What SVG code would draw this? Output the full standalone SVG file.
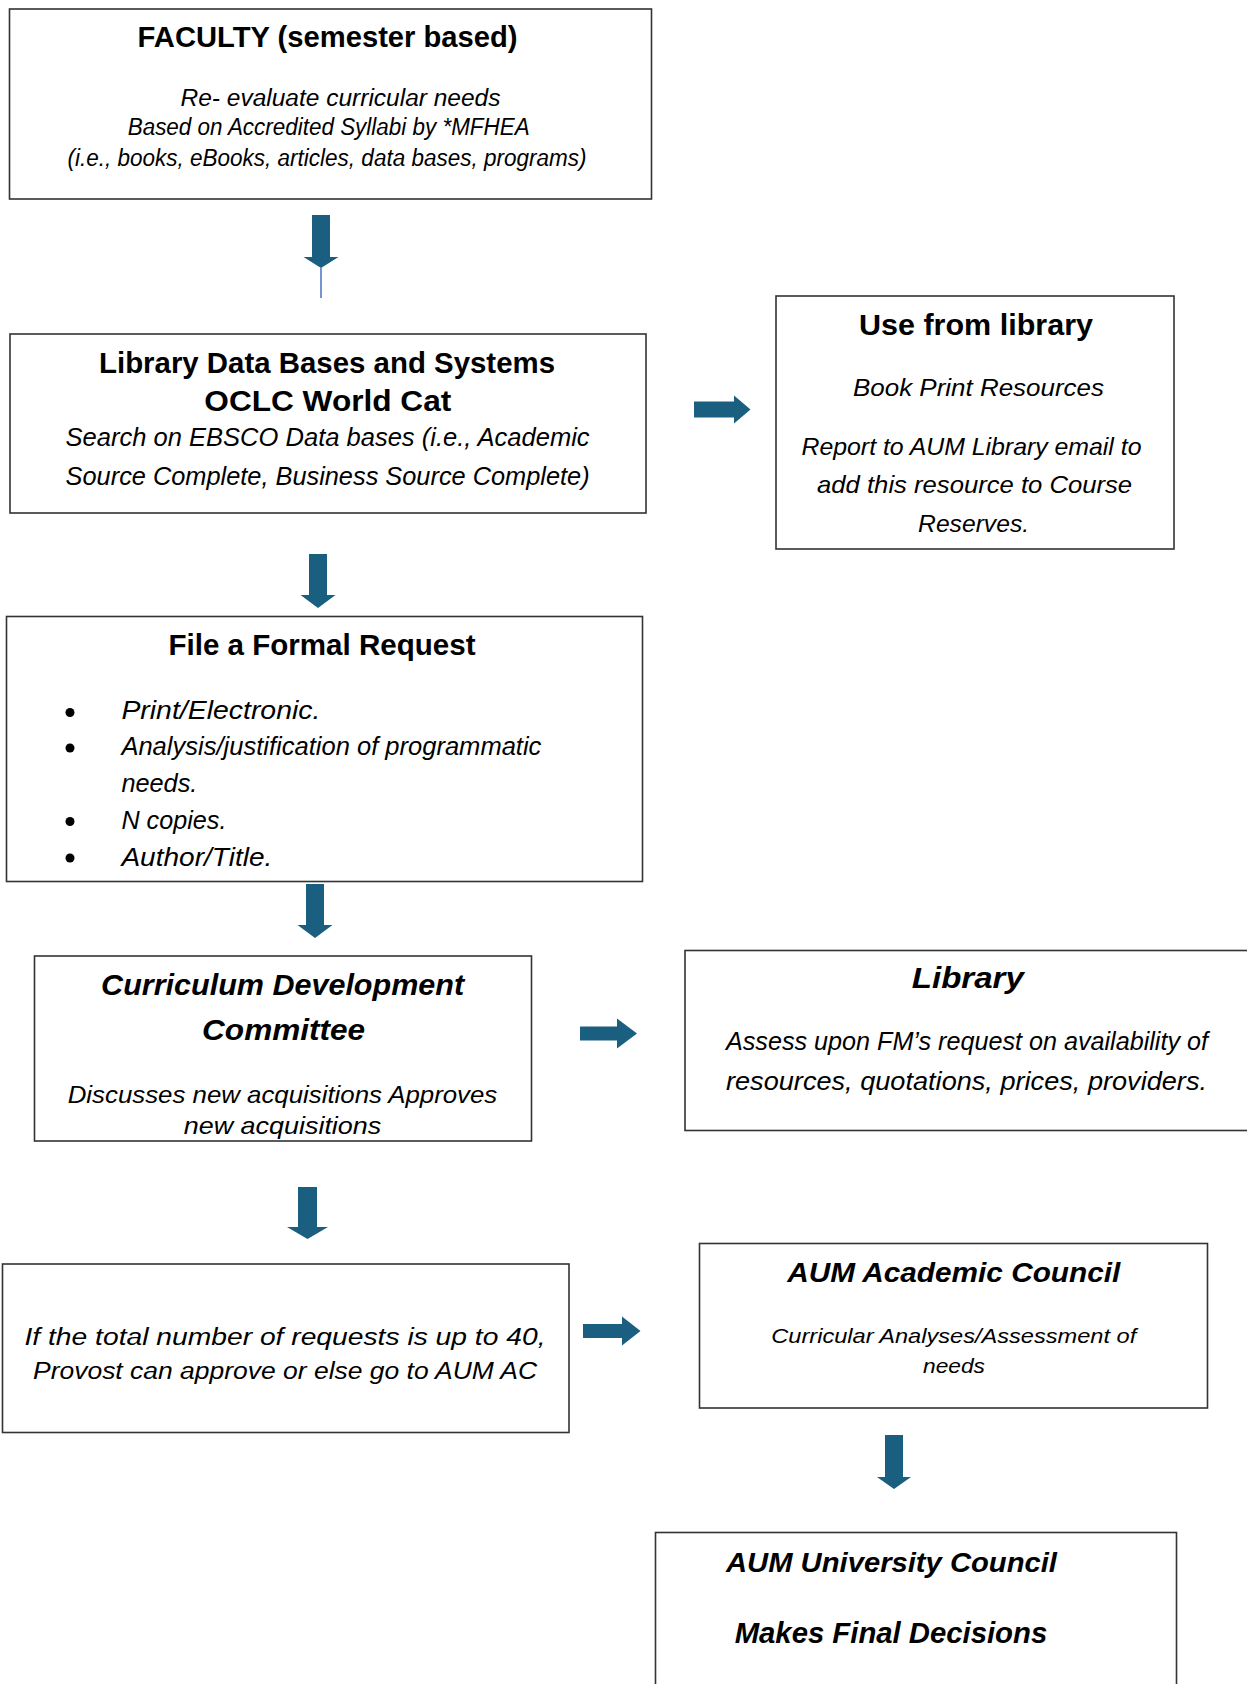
<svg xmlns="http://www.w3.org/2000/svg" width="1247" height="1684" viewBox="0 0 1247 1684">
<style>
.box{fill:#fff;stroke:#333;stroke-width:1.6}
text{font-family:"Liberation Sans",Arial,sans-serif;fill:#000}
.b{font-weight:bold}
.i{font-style:italic}
.c{text-anchor:middle}
.arr{fill:#1a5e80}
</style>
<rect width="1247" height="1684" fill="#fff"/>
<g id="faculty">
<rect class="box" x="9.5" y="9" width="642" height="190"/>
<text class="b c" x="327.6" y="47" font-size="29" textLength="380" lengthAdjust="spacingAndGlyphs">FACULTY (semester based)</text>
<text class="i c" x="340.5" y="106" font-size="23" textLength="320" lengthAdjust="spacingAndGlyphs">Re- evaluate curricular needs</text>
<text class="i c" x="328.7" y="135" font-size="23" textLength="402" lengthAdjust="spacingAndGlyphs">Based on Accredited Syllabi by *MFHEA</text>
<text class="i c" x="327" y="166" font-size="23" textLength="519" lengthAdjust="spacingAndGlyphs">(i.e., books, eBooks, articles, data bases, programs)</text>
</g>
<g id="librarydb">
<rect class="box" x="10" y="334" width="636" height="179"/>
<text class="b c" x="327" y="373" font-size="29" textLength="456" lengthAdjust="spacingAndGlyphs">Library Data Bases and Systems</text>
<text class="b c" x="327.8" y="411" font-size="29" textLength="247" lengthAdjust="spacingAndGlyphs">OCLC World Cat</text>
<text class="i c" x="327.6" y="446" font-size="26" textLength="524" lengthAdjust="spacingAndGlyphs">Search on EBSCO Data bases (i.e., Academic</text>
<text class="i c" x="327.6" y="485" font-size="26" textLength="524" lengthAdjust="spacingAndGlyphs">Source Complete, Business Source Complete)</text>
</g>
<g id="usefromlibrary">
<rect class="box" x="776" y="296" width="398" height="253"/>
<text class="b c" x="976" y="335" font-size="30" textLength="234" lengthAdjust="spacingAndGlyphs">Use from library</text>
<text class="i c" x="978.5" y="396" font-size="24" textLength="251" lengthAdjust="spacingAndGlyphs">Book Print Resources</text>
<text class="i c" x="971.5" y="455" font-size="24" textLength="340" lengthAdjust="spacingAndGlyphs">Report to AUM Library email to</text>
<text class="i c" x="974.6" y="493" font-size="24" textLength="315" lengthAdjust="spacingAndGlyphs">add this resource to Course</text>
<text class="i c" x="973.6" y="532" font-size="24" textLength="111" lengthAdjust="spacingAndGlyphs">Reserves.</text>
</g>
<g id="formalrequest">
<rect class="box" x="6.5" y="616.5" width="636" height="265"/>
<text class="b c" x="322" y="655" font-size="30" textLength="307" lengthAdjust="spacingAndGlyphs">File a Formal Request</text>
<circle cx="70" cy="712.5" r="4.5"/>
<circle cx="70" cy="748" r="4.5"/>
<circle cx="70" cy="821.5" r="4.5"/>
<circle cx="70" cy="858" r="4.5"/>
<text class="i" x="121.4" y="719" font-size="25" textLength="199" lengthAdjust="spacingAndGlyphs">Print/Electronic.</text>
<text class="i" x="121.4" y="755" font-size="25" textLength="420" lengthAdjust="spacingAndGlyphs">Analysis/justification of programmatic</text>
<text class="i" x="121.4" y="791.5" font-size="25" textLength="76" lengthAdjust="spacingAndGlyphs">needs.</text>
<text class="i" x="121.4" y="829" font-size="25" textLength="105" lengthAdjust="spacingAndGlyphs">N copies.</text>
<text class="i" x="121.4" y="865.5" font-size="25" textLength="151" lengthAdjust="spacingAndGlyphs">Author/Title.</text>
</g>
<g id="curriculum">
<rect class="box" x="34.5" y="956" width="497" height="185"/>
<text class="b i c" x="282.6" y="995" font-size="30" textLength="363" lengthAdjust="spacingAndGlyphs">Curriculum Development</text>
<text class="b i c" x="283.6" y="1040" font-size="30" textLength="163" lengthAdjust="spacingAndGlyphs">Committee</text>
<text class="i c" x="282.5" y="1102.5" font-size="24" textLength="429.6" lengthAdjust="spacingAndGlyphs">Discusses new acquisitions Approves</text>
<text class="i c" x="282.5" y="1134" font-size="24" textLength="197.6" lengthAdjust="spacingAndGlyphs">new acquisitions</text>
</g>
<g id="library">
<rect class="box" x="685" y="950.5" width="580" height="180"/>
<text class="b i c" x="967.8" y="988" font-size="29" textLength="112" lengthAdjust="spacingAndGlyphs">Library</text>
<text class="i c" x="967" y="1050" font-size="25" textLength="482" lengthAdjust="spacingAndGlyphs">Assess upon FM’s request on availability of</text>
<text class="i c" x="966.5" y="1090" font-size="25" textLength="481" lengthAdjust="spacingAndGlyphs">resources, quotations, prices, providers.</text>
</g>
<g id="provost">
<rect class="box" x="2.5" y="1264" width="566.5" height="168.5"/>
<text class="i c" x="285" y="1345" font-size="23" textLength="521" lengthAdjust="spacingAndGlyphs">If the total number of requests is up to 40,</text>
<text class="i c" x="285" y="1379" font-size="23" textLength="504" lengthAdjust="spacingAndGlyphs">Provost can approve or else go to AUM AC</text>
</g>
<g id="academiccouncil">
<rect class="box" x="699.5" y="1243.5" width="508" height="164.5"/>
<text class="b i c" x="953.8" y="1282" font-size="27" textLength="333" lengthAdjust="spacingAndGlyphs">AUM Academic Council</text>
<text class="i c" x="953.8" y="1343" font-size="21" textLength="365" lengthAdjust="spacingAndGlyphs">Curricular Analyses/Assessment of</text>
<text class="i c" x="954" y="1373" font-size="21" textLength="62" lengthAdjust="spacingAndGlyphs">needs</text>
</g>
<g id="universitycouncil">
<rect class="box" x="655.5" y="1532.5" width="521" height="170"/>
<text class="b i" x="726" y="1571.5" font-size="28" textLength="331" lengthAdjust="spacingAndGlyphs">AUM University Council</text>
<text class="b i" x="734.7" y="1642.5" font-size="30" textLength="312.5" lengthAdjust="spacingAndGlyphs">Makes Final Decisions</text>
</g>
<g id="connectors">
<polygon class="arr" points="312,215 330,215 330,257 338.5,257 321,268 303.5,257 312,257"/>
<line x1="321" y1="268" x2="321" y2="298" stroke="#4472c4" stroke-width="1.5"/>
<polygon class="arr" points="309,554 327,554 327,595 335.5,595 318,608 300.5,595 309,595"/>
<polygon class="arr" points="306,884 324,884 324,925 332.5,925 315,938 297.5,925 306,925"/>
<polygon class="arr" points="298,1187 317,1187 317,1227 328,1227 307.5,1239 287,1227 298,1227"/>
<polygon class="arr" points="885,1435 903,1435 903,1477 911,1477 894,1489 877,1477 885,1477"/>
<polygon class="arr" points="694,401.5 734,401.5 734,395.5 750.5,409.5 734,423.5 734,417.5 694,417.5"/>
<polygon class="arr" points="580,1026.5 617,1026.5 617,1018.5 637,1033.5 617,1048.5 617,1040.5 580,1040.5"/>
<polygon class="arr" points="583,1324 622,1324 622,1316.5 640.5,1331 622,1345.5 622,1338 583,1338"/>
</g>
</svg>
